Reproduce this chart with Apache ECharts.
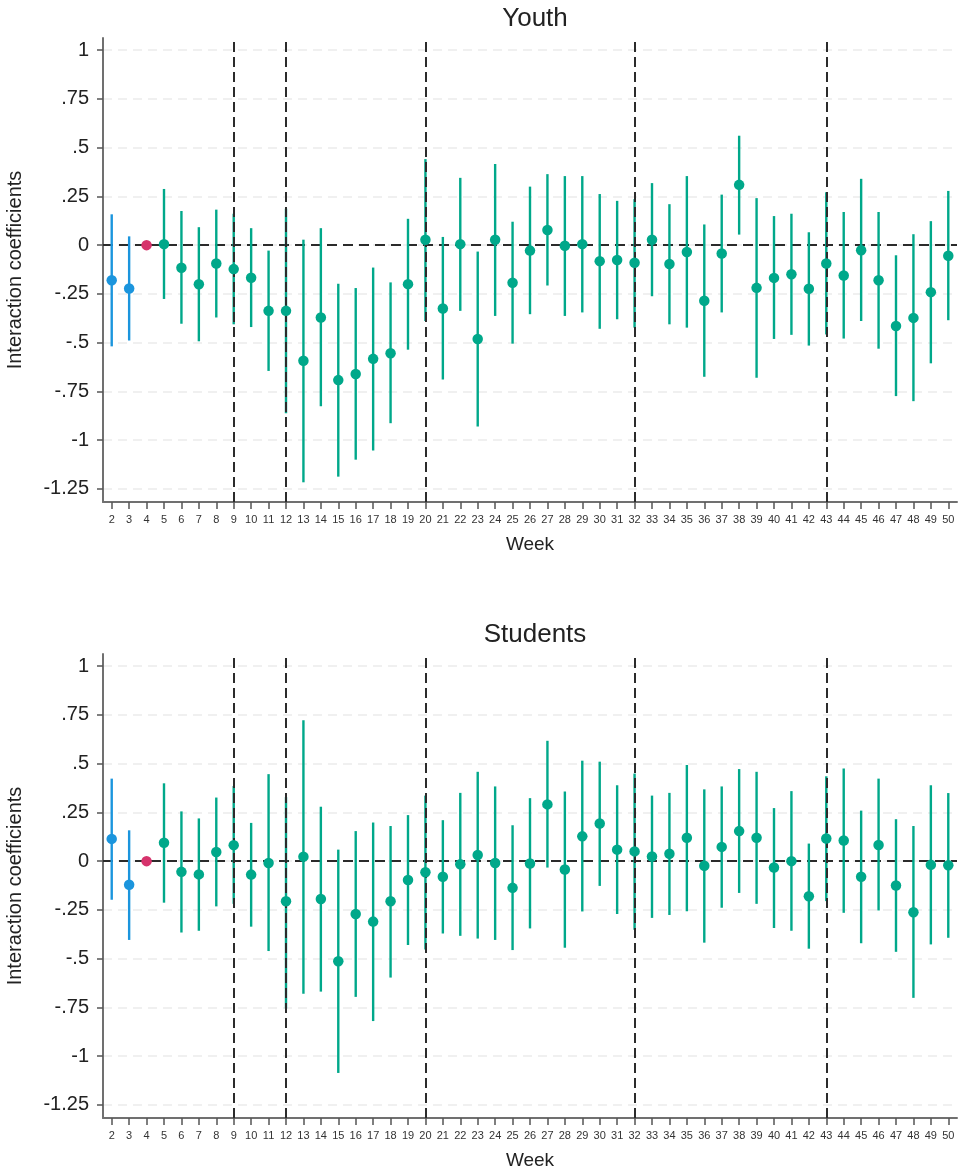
<!DOCTYPE html>
<html>
<head>
<meta charset="utf-8">
<script src="https://cdn.jsdelivr.net/npm/echarts@6/dist/echarts.min.js"></script>
<style>
html,body{margin:0;padding:0;background:#fff;}
#chart{width:960px;height:1173px;}
</style>
</head>
<body>
<div id="chart"></div>
<script>
// ---- data ----
const weeks = [2,3,4,5,6,7,8,9,10,11,12,13,14,15,16,17,18,19,20,21,22,23,24,25,26,27,28,29,30,31,32,33,34,35,36,37,38,39,40,41,42,43,44,45,46,47,48,49,50];
const preWeeks = [2,3];
const refWeek = 4;
const eventWeeks = [9,12,20,32,43];
const yTicks = [-1.25,-1,-0.75,-0.5,-0.25,0,0.25,0.5,0.75,1];

const youthCoef = [-0.180,-0.222,0,0.005,-0.116,-0.201,-0.094,-0.123,-0.167,-0.337,-0.337,-0.593,-0.371,-0.692,-0.661,-0.583,-0.554,-0.200,0.028,-0.325,0.005,-0.481,0.028,-0.193,-0.028,0.078,-0.003,0.005,-0.082,-0.076,-0.090,0.028,-0.097,-0.035,-0.285,-0.043,0.309,-0.219,-0.168,-0.149,-0.224,-0.094,-0.156,-0.026,-0.180,-0.415,-0.373,-0.241,-0.054];
const youthLo = [-0.519,-0.489,null,-0.276,-0.403,-0.493,-0.371,-0.406,-0.420,-0.645,-0.862,-1.216,-0.826,-1.187,-1.100,-1.053,-0.913,-0.536,-0.389,-0.689,-0.337,-0.930,-0.363,-0.505,-0.354,-0.207,-0.363,-0.345,-0.429,-0.380,-0.423,-0.262,-0.406,-0.423,-0.675,-0.345,0.054,-0.680,-0.481,-0.460,-0.515,-0.458,-0.479,-0.389,-0.531,-0.774,-0.800,-0.606,-0.385];
const youthHi = [0.158,0.045,null,0.288,0.175,0.092,0.182,0.161,0.087,-0.028,0.187,0.028,0.087,-0.198,-0.220,-0.115,-0.191,0.135,0.441,0.042,0.345,-0.033,0.416,0.120,0.300,0.364,0.354,0.354,0.262,0.227,0.236,0.318,0.210,0.354,0.106,0.259,0.561,0.241,0.149,0.161,0.066,0.271,0.170,0.340,0.170,-0.052,0.056,0.123,0.278];

const studCoef = [0.114,-0.121,0,0.094,-0.055,-0.068,0.047,0.082,-0.069,-0.010,-0.206,0.023,-0.194,-0.513,-0.271,-0.310,-0.206,-0.097,-0.057,-0.080,-0.016,0.031,-0.010,-0.137,-0.012,0.291,-0.043,0.127,0.193,0.059,0.050,0.024,0.038,0.120,-0.024,0.073,0.154,0.120,-0.033,0.000,-0.180,0.116,0.106,-0.080,0.083,-0.125,-0.262,-0.019,-0.021];
const studLo = [-0.198,-0.404,null,-0.213,-0.366,-0.357,-0.232,-0.219,-0.336,-0.461,-0.756,-0.680,-0.669,-1.086,-0.696,-0.820,-0.597,-0.430,-0.453,-0.371,-0.383,-0.397,-0.404,-0.456,-0.345,-0.033,-0.444,-0.258,-0.127,-0.271,-0.352,-0.291,-0.276,-0.257,-0.418,-0.239,-0.163,-0.219,-0.343,-0.357,-0.449,-0.205,-0.265,-0.421,-0.253,-0.465,-0.701,-0.427,-0.393];
const studHi = [0.423,0.158,null,0.399,0.255,0.219,0.326,0.385,0.196,0.446,0.328,0.722,0.279,0.059,0.154,0.198,0.180,0.236,0.336,0.210,0.350,0.458,0.383,0.184,0.323,0.617,0.357,0.515,0.510,0.389,0.449,0.336,0.350,0.493,0.368,0.383,0.472,0.458,0.272,0.359,0.090,0.435,0.475,0.259,0.423,0.215,0.180,0.389,0.349];

const panels = [
  {title:'Youth', coef:youthCoef, lo:youthLo, hi:youthHi},
  {title:'Students', coef:studCoef, lo:studLo, hi:studHi}
];

// ---- style ----
const FONT = "'Liberation Sans', Arial, Helvetica, sans-serif";
const C_PRE = '#1b95dd', C_REF = '#d6336c', C_POST = '#00a88a';
function colorOf(w){ return w === refWeek ? C_REF : (preWeeks.indexOf(w) >= 0 ? C_PRE : C_POST); }
function fmtY(v){
  if (Math.abs(v) < 1e-9) return '0';
  let s = String(+v.toFixed(2));
  return s.replace(/^(-?)0\./, '$1.');
}

const gridTops = [38, 654];
const GRID_H = 464;

const option = {
  animation:false,
  backgroundColor:'#fff',
  textStyle:{fontFamily:FONT},
  title: panels.map((p,i)=>({
    text:p.title, left:530, textAlign:'center', top:gridTops[i]-37,
    textStyle:{fontFamily:FONT, fontSize:26, fontWeight:'normal', color:'#222'}
  })),
  grid: gridTops.map(t=>({left:103, right:3, top:t, height:GRID_H, containLabel:false, outerBoundsMode:'none'})),
  xAxis: panels.map((p,i)=>({
    type:'value', gridIndex:i, min:1.5, max:50.5,
    name:'Week', nameLocation:'middle', nameGap:33,
    nameTextStyle:{fontFamily:FONT, fontSize:19, color:'#222'},
    axisLine:{onZero:false, lineStyle:{color:'#707070', width:2}},
    axisTick:{customValues:weeks, length:7, lineStyle:{color:'#555', width:1.5}},
    axisLabel:{customValues:weeks, fontSize:11, color:'#333', margin:12, fontFamily:FONT,
      formatter:v=>String(v)},
    splitLine:{show:false}
  })),
  yAxis: panels.map((p,i)=>({
    type:'value', gridIndex:i, min:-1.317, max:1.062,
    name:'Interaction coefficients', nameLocation:'middle', nameGap:78,
    nameTextStyle:{fontFamily:FONT, fontSize:20, color:'#222'},
    axisLine:{show:true, onZero:false, lineStyle:{color:'#707070', width:2}},
    axisTick:{show:true, customValues:yTicks, length:6, lineStyle:{color:'#555', width:1.5}},
    axisLabel:{customValues:yTicks, fontSize:20, color:'#222', margin:14, fontFamily:FONT, formatter:fmtY},
    splitLine:{show:true, lineStyle:{color:'#ebebeb', width:1.5, type:[9,6]}}
  })),
  series: []
};

panels.forEach((p,i)=>{
  // zero reference line
  option.series.push({
    type:'line', xAxisIndex:i, yAxisIndex:i, data:[], silent:true, z:1,
    markLine:{symbol:'none', silent:true, z:1, label:{show:false},
      lineStyle:{color:'#2b2b2b', width:2, type:[10,6]},
      data:[{yAxis:0}]}
  });
  // error bars
  const barData = [];
  weeks.forEach((w,k)=>{ if (p.lo[k] !== null && p.hi[k] !== null) barData.push([w, p.lo[k], p.hi[k]]); });
  option.series.push({
    type:'custom', xAxisIndex:i, yAxisIndex:i, z:2, silent:true,
    data:barData,
    renderItem:(params, api)=>{
      const w = api.value(0);
      const a = api.coord([w, api.value(1)]);
      const b = api.coord([w, api.value(2)]);
      return {type:'line', shape:{x1:a[0], y1:a[1], x2:b[0], y2:b[1]},
        style:{stroke:colorOf(w), lineWidth:2.4}};
    }
  });
  // event week vertical lines
  option.series.push({
    type:'line', xAxisIndex:i, yAxisIndex:i, data:[], silent:true, z:3,
    markLine:{symbol:'none', silent:true, z:3, label:{show:false},
      lineStyle:{color:'#2b2b2b', width:2, type:[10,5]},
      data:eventWeeks.map(w=>({xAxis:w}))}
  });
  // point estimates
  option.series.push({
    type:'scatter', xAxisIndex:i, yAxisIndex:i, z:4, symbolSize:10.5, silent:true,
    data: weeks.map((w,k)=>({value:[w, p.coef[k]], itemStyle:{color:colorOf(w), opacity:1}}))
  });
});

const chart = echarts.init(document.getElementById('chart'), null, {renderer:'canvas'});
chart.setOption(option);
</script>
</body>
</html>
